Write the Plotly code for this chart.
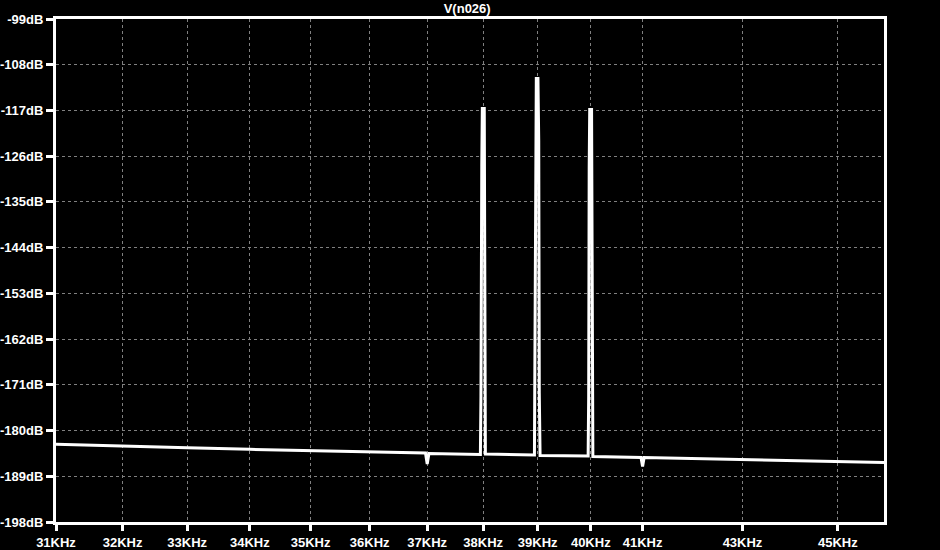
import plotly.graph_objects as go

# Frequencies (kHz) and magnitudes (dB)
freq_khz = [31.0, 32.0, 33.0, 34.0, 35.0, 36.0, 36.97, 37.0, 37.03,
            37.95, 37.96, 37.975, 37.985, 38.02, 38.03, 38.04,
            38.94, 38.95, 38.965, 38.975, 39.005, 39.02, 39.03, 39.045,
            39.95, 39.96, 39.97, 39.98, 40.015, 40.025, 40.04,
            40.97, 41.0, 41.03, 42.0, 43.0, 44.0, 45.0, 46.0]
mag_db = [-182.7, -183.1, -183.4, -183.7, -183.9, -184.2, -184.4, -186.6, -184.5,
          -184.7, -173.3, -128.0, -116.6, -116.6, -167.6, -184.6,
          -184.8, -166.4, -129.0, -110.7, -110.7, -123.0, -172.5, -184.9,
          -185.0, -173.5, -128.1, -116.8, -116.8, -168.0, -185.1,
          -185.3, -187.1, -185.3, -185.5, -185.7, -185.9, -186.1, -186.3]

x_tick_khz = [31, 32, 33, 34, 35, 36, 37, 38, 39, 40, 41, 43, 45]
x_tick_text = [f"{v}KHz" for v in x_tick_khz]
y_tick_db = [-99, -108, -117, -126, -135, -144, -153, -162, -171, -180, -189, -198]
y_tick_text = [f"{v}dB" for v in y_tick_db]
title_text = "V(n026)"

freq_hz = [f * 1000 for f in freq_khz]

fig = go.Figure()
fig.add_trace(go.Scatter(x=freq_hz, y=mag_db, mode="lines",
                         line=dict(color="white", width=3), hoverinfo="skip"))

font = dict(family="Liberation Sans", size=13, color="white", weight="bold")

fig.update_layout(
    width=940, height=550,
    paper_bgcolor="black", plot_bgcolor="black",
    margin=dict(l=56, r=56, t=19, b=28, autoexpand=False),
    showlegend=False,
    font=font,
    title=dict(text=title_text, x=0.497, xanchor="center", y=0.985, yanchor="middle",
               font=dict(family="Liberation Sans", size=13, color="white", weight="bold")),
)
fig.update_xaxes(type="log", range=[4.49136169, 4.66275783], automargin=False,
                 tickvals=[v * 1000 for v in x_tick_khz], ticktext=x_tick_text,
                 showline=True, linecolor="white", linewidth=3, mirror=True,
                 ticks="outside", ticklen=6, tickwidth=3, tickcolor="white",
                 showgrid=True, gridcolor="#808080", gridwidth=1, griddash="3px,3px",
                 zeroline=False, tickfont=font)
fig.update_yaxes(range=[-198, -99], automargin=False,
                 tickvals=y_tick_db, ticktext=y_tick_text,
                 showline=True, linecolor="white", linewidth=3, mirror=True,
                 ticks="outside", ticklen=7, tickwidth=3, tickcolor="white",
                 showgrid=True, gridcolor="#808080", gridwidth=1, griddash="3px,3px",
                 zeroline=False, tickfont=font)

fig.write_html("out.html", config={"displayModeBar": False},
               post_script="document.body.style.margin='0';document.body.style.background='black';")
